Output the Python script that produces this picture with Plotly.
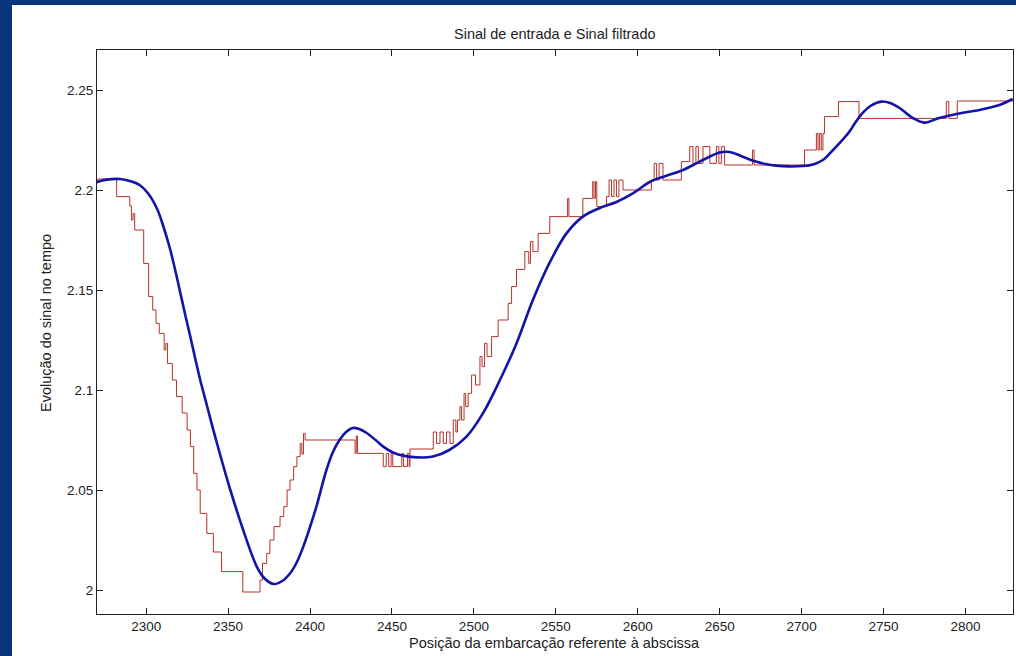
import plotly.graph_objects as go

# Input (quantized) signal: breakpoints (x) and levels (y), drawn as steps
red_x = [2270, 2270.5, 2282, 2290, 2291, 2292, 2293, 2298.5, 2301.5, 2304, 2306, 2308,
         2311, 2312, 2313, 2316, 2318.5, 2322, 2325, 2327, 2329, 2331, 2333, 2337, 2341,
         2346, 2359, 2369.5, 2371, 2373.6, 2375.5, 2378, 2381.7, 2384, 2386, 2387.8,
         2390, 2392, 2394, 2395, 2396, 2397, 2427.5, 2428.2, 2429, 2444.7, 2446.5, 2448,
         2449.5, 2450.5, 2456, 2457, 2459.5, 2460.5, 2461, 2475.2, 2477.2, 2479.3, 2481.3,
         2483.3, 2485.4, 2487.4, 2489, 2490, 2491.5, 2492.5, 2494, 2495, 2496.5, 2498.6,
         2501, 2503.7, 2505, 2506.5, 2508, 2510.8, 2514.8, 2520.9, 2523, 2526, 2531.1,
         2533.5, 2534.5, 2536, 2539.2, 2546.3, 2557.2, 2558, 2566.5, 2572.5, 2573.3,
         2574.2, 2575, 2580.9, 2582.5, 2584, 2585.5, 2587, 2588.5, 2591, 2608.3, 2610,
         2611.5, 2613, 2615.4, 2626.6, 2631.7, 2633.7, 2635.5, 2637, 2639.8, 2644, 2648,
         2649.5, 2651, 2653, 2670, 2671, 2672.4, 2701.8, 2709, 2710, 2711, 2712, 2713,
         2714, 2722.5, 2735, 2788.3, 2789.8, 2795, 2829]
red_y = [2.2035, 2.2055, 2.1967, 2.192, 2.185, 2.1883, 2.18, 2.1633, 2.1467, 2.14, 2.1333, 2.1283,
         2.12, 2.1233, 2.1133, 2.105, 2.0967, 2.0885, 2.08, 2.0717, 2.0583, 2.05, 2.0383, 2.0283, 2.019,
         2.0092, 1.999, 2.005, 2.0133, 2.0183, 2.025, 2.0317, 2.0367, 2.0417, 2.05, 2.055,
         2.0617, 2.0667, 2.0733, 2.068, 2.0783, 2.075, 2.0683, 2.077, 2.0683, 2.0617, 2.0683, 2.0617,
         2.0683, 2.0617, 2.0683, 2.0617, 2.0683, 2.0617, 2.0705, 2.079, 2.0733, 2.079, 2.0733,
         2.079, 2.0733, 2.085, 2.079, 2.085, 2.0917, 2.085, 2.0983, 2.0917, 2.0983, 2.1075,
         2.1025, 2.1167, 2.1117, 2.1233, 2.1167, 2.1267, 2.135, 2.1433, 2.1517, 2.1603, 2.1692,
         2.1633, 2.1742, 2.1692, 2.1783, 2.1867, 2.1958, 2.1867, 2.1958, 2.2042, 2.1958,
         2.2042, 2.1917, 2.1967, 2.205, 2.1967, 2.205, 2.1967, 2.205, 2.2, 2.205, 2.2133, 2.205,
         2.2133, 2.205, 2.2142, 2.2217, 2.2133, 2.2217, 2.2133, 2.2217, 2.2133, 2.2217,
         2.2133, 2.2217, 2.2125, 2.22, 2.2125, 2.2125, 2.22, 2.2283, 2.22, 2.2283, 2.22, 2.2283,
         2.2367, 2.2442, 2.2358, 2.2442, 2.2358, 2.2445, 2.2455]

# Filtered signal
blue_x = [2270, 2276, 2284, 2290, 2296, 2301, 2306.7, 2311, 2314.6, 2318, 2321, 2324, 2327,
          2330, 2333, 2337, 2343, 2351, 2359, 2367.5, 2372, 2377.6, 2383, 2388, 2392, 2395.9,
          2400, 2404, 2410, 2414, 2418, 2422, 2426, 2430, 2434.6, 2440, 2444.7, 2450, 2455,
          2465, 2475, 2485, 2495.5, 2505.5, 2515.9, 2526, 2536, 2546, 2556.5, 2566.5, 2576.8,
          2587, 2597, 2607.3, 2617, 2627.6, 2637.8, 2650, 2656, 2660, 2666, 2672, 2678,
          2684.6, 2692, 2700.6, 2707, 2713, 2718, 2723, 2729, 2733, 2737, 2742, 2748.6, 2754,
          2759.8, 2767.8, 2775, 2784, 2796, 2808.5, 2820.7, 2828.7]
blue_y = [2.204, 2.2052, 2.2055, 2.2045, 2.2025, 2.1985, 2.1905, 2.1805, 2.1705, 2.159, 2.148, 2.137, 2.1265,
          2.1155, 2.105, 2.0925, 2.074, 2.051, 2.0305, 2.0117, 2.006, 2.003, 2.0045, 2.0085, 2.014, 2.0217,
          2.0315, 2.042, 2.06, 2.069, 2.075, 2.079, 2.081, 2.0805, 2.0785, 2.075, 2.0717, 2.069, 2.0675,
          2.0663, 2.0667, 2.07, 2.0767, 2.0883, 2.105, 2.1233, 2.145, 2.1633, 2.1783, 2.1867, 2.191,
          2.194, 2.1983, 2.204, 2.207, 2.21, 2.2142, 2.2187, 2.219, 2.218, 2.216, 2.2142, 2.213,
          2.2122, 2.2118, 2.212, 2.2128, 2.215, 2.219, 2.2233, 2.229, 2.234, 2.2383, 2.242, 2.2442, 2.2435,
          2.241, 2.236, 2.2337, 2.236, 2.2383, 2.24, 2.2425, 2.2455]

x_ticks = [2300, 2350, 2400, 2450, 2500, 2550, 2600, 2650, 2700, 2750, 2800]
y_ticks = [2, 2.05, 2.1, 2.15, 2.2, 2.25]
y_tick_text = ["2", "2.05", "2.1", "2.15", "2.2", "2.25"]

title_text = "Sinal de entrada e Sinal filtrado"
x_title = "Posição da embarcação referente à abscissa"
y_title = "Evolução do sinal no tempo"

W, H = 1016, 656
ML, MR, MT, MB = 97, 3, 50, 42
PW, PH = W - ML - MR, H - MT - MB

fig = go.Figure()
fig.add_trace(go.Scatter(x=red_x, y=red_y, mode="lines", line=dict(color="#b5322a", width=1, shape="hv"),
                         showlegend=False, hoverinfo="skip"))
fig.add_trace(go.Scatter(x=blue_x, y=blue_y, mode="lines", line=dict(color="#1414a8", width=2.6, shape="spline"),
                         showlegend=False, hoverinfo="skip"))

fam = "Liberation Sans, Arial, sans-serif"
tick_font = dict(family=fam, size=13.5, color="#222")
label_font = dict(family=fam, size=14.5, color="#222")
axis_common = dict(showline=True, linecolor="#222", linewidth=1, mirror="ticks", ticks="inside",
                   ticklen=6, tickcolor="#222", showgrid=False, zeroline=False, tickfont=tick_font)

fig.update_layout(
    width=W, height=H,
    margin=dict(l=ML, r=MR, t=MT, b=MB),
    paper_bgcolor="#07367a",
    plot_bgcolor="white",
    xaxis=dict(range=[2270, 2829], tickvals=x_ticks, **axis_common),
    yaxis=dict(range=[1.988, 2.27], tickvals=y_ticks, ticktext=y_tick_text, **axis_common),
    shapes=[dict(type="rect", xref="paper", yref="paper",
                 x0=(12 - ML) / PW, x1=1.2, y0=-0.3, y1=1 + (MT - 5) / PH,
                 fillcolor="white", line=dict(width=0), layer="below")],
    annotations=[
        dict(text=title_text, xref="paper", yref="paper", x=0.5, y=1 + (MT - 34) / PH,
             xanchor="center", yanchor="middle", showarrow=False, font=label_font),
        dict(text=x_title, xref="paper", yref="paper", x=(554 - ML) / PW, y=-(643 - (H - MB)) / PH,
             xanchor="center", yanchor="middle", showarrow=False, font=label_font),
        dict(text=y_title, xref="paper", yref="paper", x=(46 - ML) / PW, y=(H - MB - 323) / PH,
             textangle=-90, xanchor="center", yanchor="middle", showarrow=False, font=label_font),
    ],
)

fig.write_html("out.html", config={"displayModeBar": False},
               post_script="document.body.style.margin='0';document.body.style.overflow='hidden';")
